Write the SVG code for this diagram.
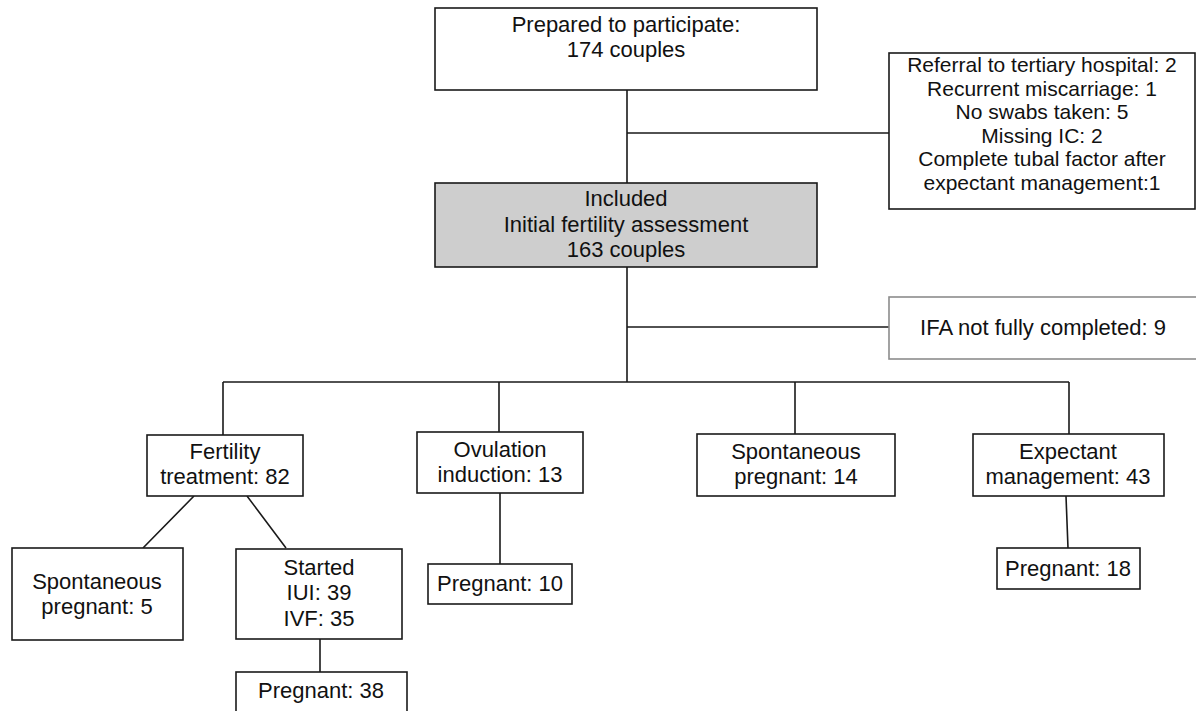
<svg xmlns="http://www.w3.org/2000/svg" width="1196" height="711" viewBox="0 0 1196 711">
<style>
.box{fill:#fff;stroke:#1a1a1a;stroke-width:1.6}
.grey{fill:#cecece;stroke:#1a1a1a;stroke-width:1.6}
.light{fill:#fff;stroke:#8c8c8c;stroke-width:1.6}
.t{font-family:"Liberation Sans",Arial,Helvetica,sans-serif;font-size:22px;fill:#111;text-anchor:middle}
.s{font-size:21px}
.c{fill:none;stroke:#1a1a1a;stroke-width:1.6}
</style>
<rect width="1196" height="711" fill="#fff"/>
<g id="connectors">
<path class="c" d="M627 90V183M627 133H889M627 267V382M627 327H889M223 382H1069M223 382V435M499 382V432M795 382V434M1069 382V434M194 496L143 548M247 496L286 548M320 639V672M500 493V564M1066 496L1068 548"/>
</g>
<g id="n-prepared">
<rect class="box" x="435" y="8" width="382" height="82"/>
<text class="t" x="626" y="32">Prepared to participate:</text>
<text class="t" x="626" y="57">174 couples</text>
</g>
<g id="n-excluded">
<rect class="box" x="889" y="53" width="306" height="156"/>
<text class="t s" x="1042" y="72">Referral to tertiary hospital: 2</text>
<text class="t s" x="1042" y="95.5">Recurrent miscarriage: 1</text>
<text class="t s" x="1042" y="119">No swabs taken: 5</text>
<text class="t s" x="1042" y="142.5">Missing IC: 2</text>
<text class="t s" x="1042" y="166">Complete tubal factor after</text>
<text class="t s" x="1042" y="189.5">expectant management:1</text>
</g>
<g id="n-included">
<rect class="grey" x="435" y="183" width="382" height="84"/>
<text class="t" x="626" y="206">Included</text>
<text class="t" x="626" y="232">Initial fertility assessment</text>
<text class="t" x="626" y="257">163 couples</text>
</g>
<g id="n-ifa">
<rect class="light" x="889" y="297" width="308" height="62"/>
<text class="t" x="1043" y="335">IFA not fully completed: 9</text>
</g>
<g id="n-fertility">
<rect class="box" x="147" y="435" width="156" height="61"/>
<text class="t" x="225" y="459">Fertility</text>
<text class="t" x="225" y="484">treatment: 82</text>
</g>
<g id="n-ovulation">
<rect class="box" x="417" y="432" width="166" height="61"/>
<text class="t" x="500" y="457">Ovulation</text>
<text class="t" x="500" y="482">induction: 13</text>
</g>
<g id="n-spont14">
<rect class="box" x="697" y="434" width="198" height="62"/>
<text class="t" x="796" y="459">Spontaneous</text>
<text class="t" x="796" y="484">pregnant: 14</text>
</g>
<g id="n-expectant">
<rect class="box" x="973" y="434" width="191" height="62"/>
<text class="t" x="1068" y="459">Expectant</text>
<text class="t" x="1068" y="484">management: 43</text>
</g>
<g id="n-spont5">
<rect class="box" x="12" y="548" width="171" height="92"/>
<text class="t" x="97" y="589">Spontaneous</text>
<text class="t" x="97" y="614">pregnant: 5</text>
</g>
<g id="n-started">
<rect class="box" x="236" y="549" width="166" height="90"/>
<text class="t" x="319" y="575">Started</text>
<text class="t" x="319" y="600">IUI: 39</text>
<text class="t" x="319" y="626">IVF: 35</text>
</g>
<g id="n-preg38">
<rect class="box" x="236" y="672" width="171" height="45"/>
<text class="t" x="321" y="698">Pregnant: 38</text>
</g>
<g id="n-preg10">
<rect class="box" x="428" y="564" width="144" height="40"/>
<text class="t" x="500" y="591">Pregnant: 10</text>
</g>
<g id="n-preg18">
<rect class="box" x="997" y="548" width="143" height="41"/>
<text class="t" x="1068" y="576">Pregnant: 18</text>
</g>
</svg>
